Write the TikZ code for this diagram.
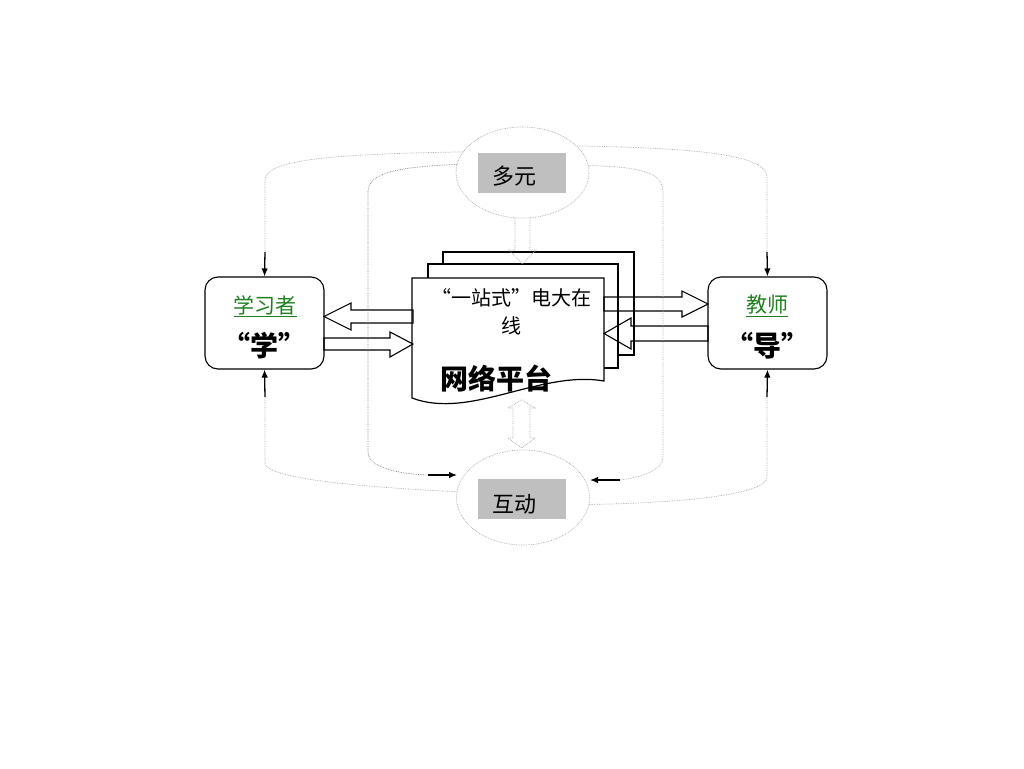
\documentclass[tikz,border=0pt]{standalone}
\usepackage{fontspec}
\setmainfont{Noto Sans CJK SC}
\usepackage{tikz}
\usetikzlibrary{shapes.geometric,arrows.meta}
\definecolor{boxgray}{rgb}{0.75,0.75,0.75}
\definecolor{linegray}{rgb}{0.66,0.66,0.66}
\definecolor{darkgreen}{rgb}{0.12,0.5,0.12}

\tikzset{
  roundbox/.style={draw, rounded corners=13pt, minimum width=119pt, minimum height=92pt, line width=1.1pt},
  cloud/.style={ellipse, draw=linegray, densely dotted, line width=0.7pt, minimum width=133pt, minimum height=91pt},
  graybox/.style={fill=boxgray, minimum width=88pt, minimum height=40pt, inner sep=0pt},
  loop/.style={linegray, densely dotted, line width=0.7pt},
  tip/.style={-{Latex[length=8pt,width=6.5pt]}, line width=1.3pt},
  fat/.style={draw, line width=1.1pt},
  page/.style={draw, fill=white, line width=1.2pt}
}

\begin{document}
\begin{tikzpicture}[x=1pt,y=-1pt]
\useasboundingbox (0,0) rectangle (1024,768);

\node[roundbox] (learner) at (264.5,323) {};
\node[roundbox] (teacher) at (767.5,323) {};
\node[cloud] (duo) at (522.5,172.5) {};
\node[cloud, minimum height=95pt] (hu) at (523,497.5) {};
\node[graybox] (duobox) at (522,173) {};
\node[graybox] (hubox) at (522,498.5) {};

\node[font=\fontsize{21}{25}\selectfont, text=darkgreen] (learnername) at (265,306) {\underline{学习者}};
\node[font=\fontsize{28}{32}\selectfont\bfseries] (learnerword) at (264.5,346) {“学”};
\node[font=\fontsize{21}{25}\selectfont, text=darkgreen] (teachername) at (767,306) {\underline{教师}};
\node[font=\fontsize{28}{32}\selectfont\bfseries] (teacherword) at (767.5,346) {“导”};
\node[font=\fontsize{22}{26}\selectfont] (duotext) at (514,176) {多元};
\node[font=\fontsize{22}{26}\selectfont] (hutext) at (514,504) {互动};

% stacked pages
\draw[page] (443,252) rectangle (634,355);
\draw[page] (428,264) rectangle (618,368);
\draw[page] (412,278) -- (604,278) -- (604,381) .. controls (540,370) and (470,420) .. (412,398) -- cycle;
\node[font=\fontsize{20}{27.5}\selectfont, align=center] (platname) at (511,312) {“一站式”电大在\\线};
\node[font=\fontsize{28}{32}\selectfont\bfseries] (platform) at (496,379) {网络平台};

% block arrows
\draw[fat] (413,310) -- (351,310) -- (351,303) -- (324,316.5) -- (351,330) -- (351,323) -- (413,323) -- cycle;
\draw[fat] (324,338) -- (390,338) -- (390,332) -- (413,344) -- (390,357) -- (390,350) -- (324,350) -- cycle;
\draw[fat] (604,297) -- (682,297) -- (682,291) -- (708,304) -- (682,317) -- (682,311) -- (604,311) -- cycle;
\draw[fat] (708,326) -- (631,326) -- (631,318) -- (604,333.5) -- (631,349) -- (631,341) -- (708,341) -- cycle;
\draw[loop] (515,218) -- (515,250) -- (509,250) -- (522.5,264) -- (536,250) -- (530,250) -- (530,218);
\draw[loop] (513,408) -- (508,408) -- (521.5,400) -- (535,408) -- (530,408) -- (530,438) -- (535,438) -- (521.5,448) -- (508,438) -- (513,438) -- cycle;

\coordinate (lt) at (265,252);
\coordinate (lb) at (265,397);
\coordinate (rt) at (767,252);
\coordinate (rb) at (767,397);
\coordinate (li) at (428,475);
\coordinate (liend) at (457,475);
\coordinate (ri) at (620,480);
\coordinate (riend) at (590,480);

\draw[loop] (duo.161) .. controls (330,154) and (265,160) .. (265,180) -- (lt);
\draw[tip] (lt) -- (learner.north);
\draw[loop, gray] (duo.173) .. controls (400,167) and (368,172) .. (368,192) -- (368,452) .. controls (368,468) and (400,474) .. (li);
\draw[tip] (li) -- (liend);
\draw[loop] (duo.6) .. controls (640,167) and (663,172) .. (663,192) -- (663,457) .. controls (663,470) and (640,478) .. (ri);
\draw[tip] (ri) -- (riend);
\draw[loop] (duo.26) .. controls (700,148) and (767,155) .. (767,177) -- (rt);
\draw[tip] (rt) -- (teacher.north);
\draw[tip] (lb) -- (learner.south);
\draw[loop] (lb) -- (265,463) .. controls (265,480) and (380,488) .. (hu.175);
\draw[tip] (rb) -- (teacher.south);
\draw[loop] (rb) -- (767,477) .. controls (767,495) and (680,503) .. (hu.354);
\end{tikzpicture}
\end{document}
